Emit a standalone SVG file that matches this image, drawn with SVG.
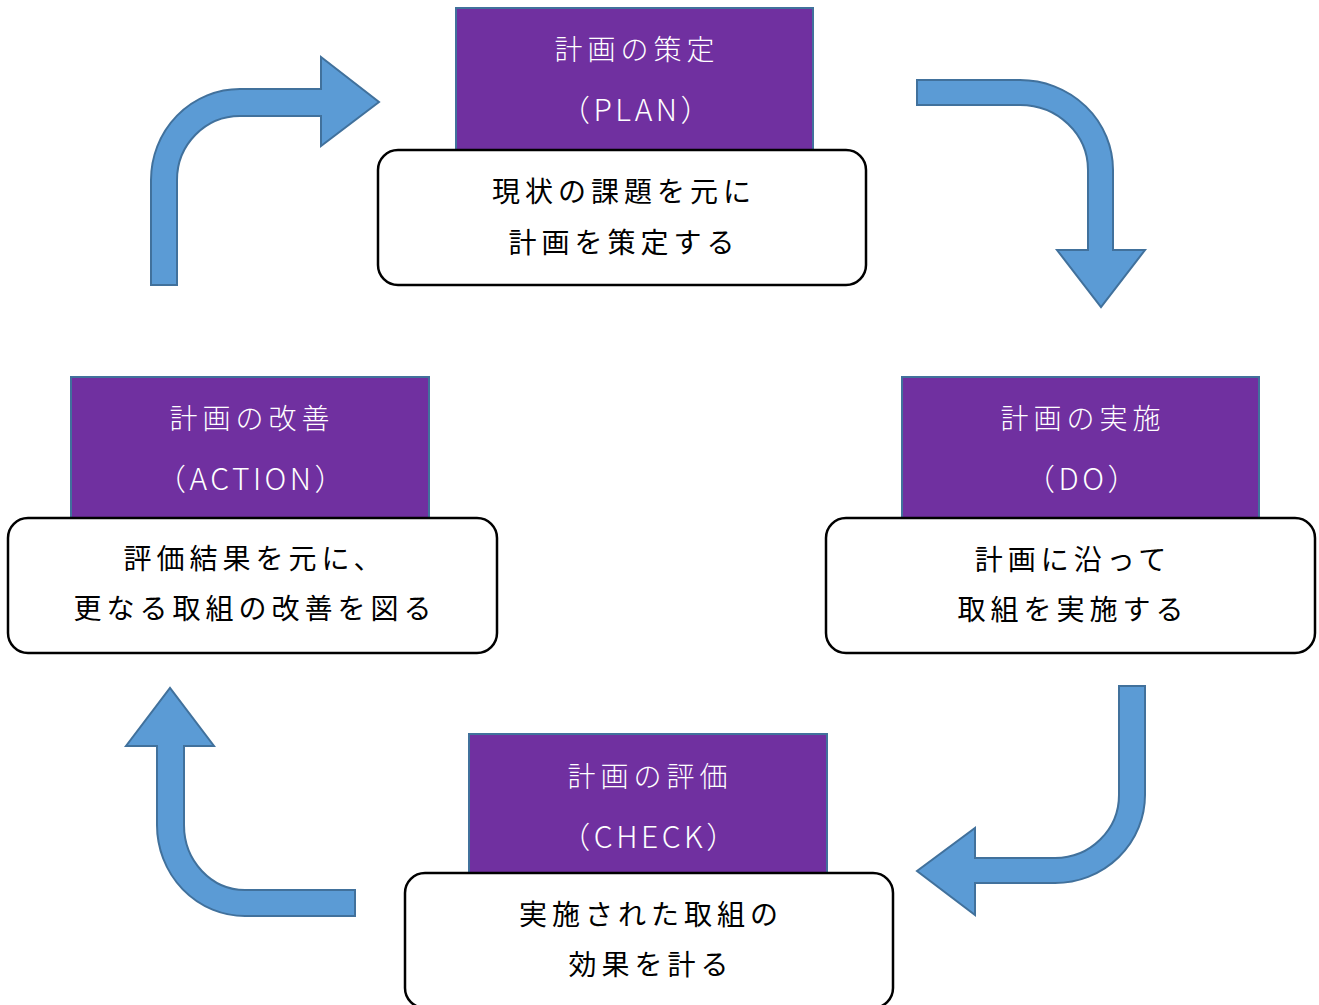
<svg xmlns="http://www.w3.org/2000/svg" width="1319" height="1005" viewBox="0 0 1319 1005">
<style>
.title{fill:#7030A0;stroke:#41719C;stroke-width:2}
.box{fill:#FFFFFF;stroke:#000000;stroke-width:2.5}
.arrow{fill:#5B9BD5;stroke:#41719C;stroke-width:2;stroke-linejoin:miter}
text{font-family:"Noto Sans CJK JP","Noto Sans",sans-serif;font-size:28px;letter-spacing:5px;text-anchor:middle;dominant-baseline:central}
.wt{fill:#FFFFFF;font-weight:300}
.lat{font-size:30px;letter-spacing:3.5px}
.bt{fill:#000000;font-weight:400}
</style>
<rect width="1319" height="1005" fill="#FFFFFF"/>
<g id="connectors">
<path class="arrow" d="M151,285 L151,180 A89,91 0 0 1 240,89 L321,89 L321,57 L379,102 L321,146 L321,116 L240,116 A63,64 0 0 0 177,180 L177,285 Z"/>
<path class="arrow" d="M917,80 L1020,80 A93,90 0 0 1 1113,170 L1113,250 L1145,250 L1101,307 L1057,250 L1088,250 L1088,170 A68,65 0 0 0 1020,105 L917,105 Z"/>
<path class="arrow" d="M1145,686 L1145,795 A90,88 0 0 1 1055,883 L975,883 L975,915 L917,871 L975,828 L975,858 L1055,858 A64,63 0 0 0 1119,795 L1119,686 Z"/>
<path class="arrow" d="M355,890 L245,890 A61,65 0 0 1 184,825 L184,746 L214,746 L170,688 L126,746 L157,746 L157,825 A88,91 0 0 0 245,916 L355,916 Z"/>
</g>
<g id="plan">
<rect class="title" x="456" y="8" width="357" height="145"/>
<text class="wt" x="637" y="48">計画の策定</text>
<text class="wt lat" x="637" y="108">（PLAN）</text>
<rect class="box" x="378" y="150" width="488" height="135" rx="20" ry="20"/>
<text class="bt" x="624" y="190">現状の課題を元に</text>
<text class="bt" x="624" y="241">計画を策定する</text>
</g>
<g id="do">
<rect class="title" x="902" y="377" width="357" height="145"/>
<text class="wt" x="1083" y="417">計画の実施</text>
<text class="wt lat" x="1083" y="477">（DO）</text>
<rect class="box" x="826" y="518" width="489" height="135" rx="20" ry="20"/>
<text class="bt" x="1073" y="558">計画に沿って</text>
<text class="bt" x="1073" y="608">取組を実施する</text>
</g>
<g id="check">
<rect class="title" x="469" y="734" width="358" height="145"/>
<text class="wt" x="650" y="775">計画の評価</text>
<text class="wt lat" x="650" y="835">（CHECK）</text>
<rect class="box" x="405" y="873" width="488" height="135" rx="20" ry="20"/>
<text class="bt" x="651" y="913">実施された取組の</text>
<text class="bt" x="651" y="963">効果を計る</text>
</g>
<g id="action">
<rect class="title" x="71" y="377" width="358" height="145"/>
<text class="wt" x="252" y="417">計画の改善</text>
<text class="wt lat" x="252" y="477">（ACTION）</text>
<rect class="box" x="8" y="518" width="489" height="135" rx="20" ry="20"/>
<text class="bt" x="255" y="557">評価結果を元に、</text>
<text class="bt" x="255" y="607">更なる取組の改善を図る</text>
</g>
</svg>
